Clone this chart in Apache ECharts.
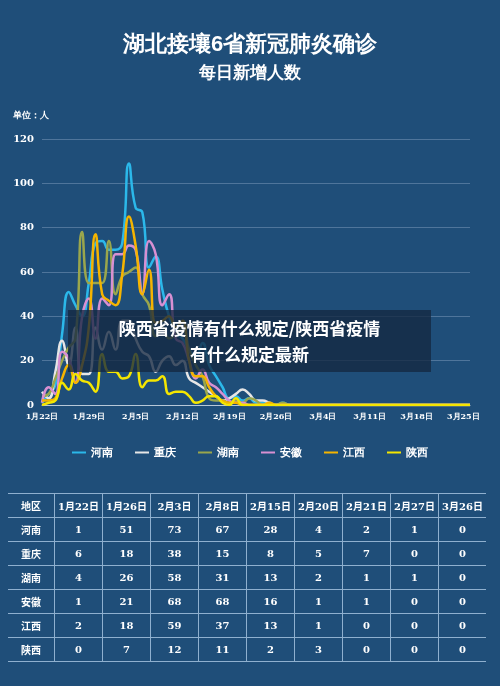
<!DOCTYPE html><html><head><meta charset="utf-8">
<script src="https://cdn.jsdelivr.net/npm/echarts@6/dist/echarts.min.js"></script>
<style>
body{margin:0;background:#1f4e79;font-family:"Noto Sans CJK SC",sans-serif;}
#c{width:500px;height:686px;position:absolute;left:0;top:0;}
table{position:absolute;left:8px;top:493px;border-collapse:collapse;color:#fff;font-size:10px;font-weight:bold;font-family:"DejaVu Serif","Noto Sans CJK SC",serif;}
td{border:1px solid #8fb0cf;height:23px;text-align:center;padding:0;width:47px;}
td:first-child{width:46px;border-left:none;} td:last-child{border-right:none;}
#ov{position:absolute;left:68px;top:310px;width:363px;height:62px;background:rgba(20,40,65,0.78);color:#fff;font-weight:bold;font-size:17px;text-align:center;line-height:26px;padding-top:5px;box-sizing:border-box;}
</style></head><body>
<div id="c"></div>
<table id="t"></table>
<div id="ov">陕西省疫情有什么规定/陕西省疫情<br>有什么规定最新</div>
<script>
const names=['河南','重庆','湖南','安徽','江西','陕西'];
const colors=['#2bb8ea','#e6e6e6','#9aa64c','#d890d2','#f5b400','#f5e600'];
const henan=[1,5,9,32,51,45,40,55,73,74,70,70,73,109,89,87,62,67,52,40,33,30,25,22,28,18,13,8,3,4,2,3,1,1,0,0,1];
const chongqing=[6,3,15,29,18,35,14,14,35,25,33,25,38,38,30,24,22,15,20,22,18,20,12,10,8,6,4,2,3,5,7,5,2,2,1,0,0];
const hunan=[4,5,12,20,26,30,78,55,55,55,74,50,58,60,62,50,45,31,35,30,32,35,25,18,13,3,2,2,1,2,1,3,2,0,0,0,1];
const anhui=[1,8,5,24,21,10,40,48,30,48,45,68,68,72,70,50,74,68,45,50,30,28,20,12,16,10,8,5,2,1,1,0,0,0,0,0,0];
const jiangxi=[2,2,3,12,18,10,18,35,77,50,47,45,59,85,72,50,61,37,38,40,35,38,20,13,13,8,4,2,1,1,0,0,0,0,1,0,0];
const shaanxi=[0,1,2,10,7,14,11,10,6,23,15,15,12,13,23,8,11,11,13,5,6,6,4,1,2,4,4,1,0,3,0,0,0,0,0,0,0];
const tableHead=['地区','1月22日','1月26日','2月3日','2月8日','2月15日','2月20日','2月21日','2月27日','3月26日'];
const tableRows=[[1,51,73,67,28,4,2,1,0],[6,18,38,15,8,5,7,0,0],[4,26,58,31,13,2,1,1,0],[1,21,68,68,16,1,1,0,0],[2,18,59,37,13,1,0,0,0],[0,7,12,11,2,3,0,0,0]];
const days=[];const d0=new Date(2020,0,22);
for(let i=0;i<65;i++){const d=new Date(d0.getTime()+i*864e5);days.push((d.getMonth()+1)+'月'+d.getDate()+'日');}
const all=[henan,chongqing,hunan,anhui,jiangxi,shaanxi].map(a=>{const r=a.slice();while(r.length<65)r.push(0);return r;});
let h='<tr>'+tableHead.map(x=>'<td>'+x+'</td>').join('')+'</tr>';
tableRows.forEach((r,i)=>{h+='<tr><td>'+names[i]+'</td>'+r.map(x=>'<td>'+x+'</td>').join('')+'</tr>';});
document.getElementById('t').innerHTML=h;
const ch=echarts.init(document.getElementById('c'));
ch.setOption({
 backgroundColor:'#1f4e79',
 title:[{text:'湖北接壤6省新冠肺炎确诊',left:'center',top:29,textStyle:{color:'#fff',fontSize:22,fontWeight:'bold'}},
 {text:'每日新增人数',left:'center',top:60,textStyle:{color:'#fff',fontSize:17,fontWeight:'bold'}},
 {text:'单位：人',left:8,top:106,textStyle:{color:'#fff',fontSize:9,fontWeight:'bold'}}],
 legend:{top:442,left:'center',itemGap:22,itemWidth:14,itemHeight:2,icon:'rect',textStyle:{color:'#fff',fontSize:11,fontWeight:'bold'},data:names},
 grid:{left:42,right:30,top:139,bottom:281},
 xAxis:{type:'category',data:days,boundaryGap:false,axisLine:{lineStyle:{color:'#b8c8d8'}},axisTick:{show:false},
  axisLabel:{interval:6,color:'#fff',fontSize:8,fontWeight:'bold',fontFamily:'DejaVu Serif'}},
 yAxis:{type:'value',min:0,max:120,interval:20,axisLine:{show:false},axisTick:{show:false},
  axisLabel:{color:'#fff',fontSize:10,fontWeight:'bold',fontFamily:'DejaVu Serif'},splitLine:{lineStyle:{color:'#4f759b'}}},
 series:names.map((n,i)=>({name:n,type:'line',smooth:true,showSymbol:false,data:all[i],color:colors[i],lineStyle:{width:2.5}}))
});
</script></body></html>
